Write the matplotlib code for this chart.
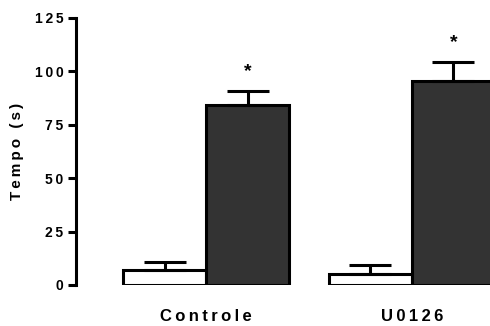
import numpy as np
import matplotlib
matplotlib.use("Agg")
import matplotlib.pyplot as plt

groups = ["Controle", "U0126"]
white_vals = [7.0, 5.0]
white_err = [4.0, 4.3]
dark_vals = [84.5, 95.5]
dark_err = [6.3, 9.0]
yticks = [0, 25, 50, 75, 100, 125]


def spaced(s):
    # mimic the wide letter spacing of the original
    return "\u2009".join(s)


plt.rcParams["font.family"] = ["Liberation Sans", "DejaVu Sans"]
plt.rcParams["font.weight"] = "bold"

fig = plt.figure(figsize=(4.9, 3.26), dpi=100)
ax = fig.add_axes([76 / 490, 41 / 326, 414 / 490, 267 / 326])

pos = np.array([0.0, 2.48])
w = 1.0
ekw = dict(elinewidth=2.2, capthick=2.2, capsize=15, ecolor="black")

ax.bar(pos - w / 2, white_vals, w, color="white", edgecolor="black", linewidth=2.2,
       yerr=[np.zeros(2), white_err], error_kw=ekw, zorder=2)
ax.bar(pos + w / 2, dark_vals, w, color="#333333", edgecolor="black", linewidth=2.2,
       yerr=[np.zeros(2), dark_err], error_kw=ekw, zorder=2)

for x, v, e in zip(pos + w / 2, dark_vals, dark_err):
    ax.text(x, v + e + 5, "*", ha="center", va="bottom", fontsize=14, fontweight="bold")

ax.set_xlim(-1.566, 3.42)
ax.set_ylim(0, 125)
ax.set_yticks(yticks)
ax.set_yticklabels([spaced(str(t)) for t in yticks])
ax.set_xticks(pos)
ax.set_xticklabels([spaced(g) for g in groups])

for s in ["top", "right", "bottom"]:
    ax.spines[s].set_visible(False)
ax.spines["left"].set_linewidth(2.2)
ax.tick_params(axis="y", width=2.2, length=6, labelsize=10, pad=3)
ax.tick_params(axis="x", length=0, labelsize=12, pad=17)
ax.set_ylabel(spaced("Tempo (s)"), fontsize=11, fontweight="bold", labelpad=8)

fig.savefig("out.png", dpi=100)
